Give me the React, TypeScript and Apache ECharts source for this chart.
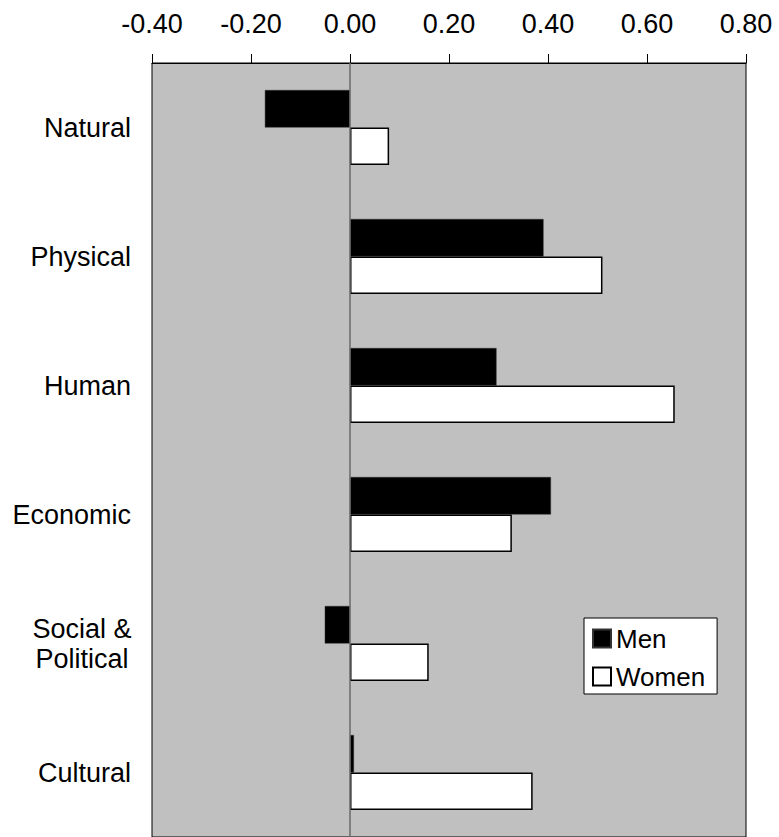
import React, { useEffect, useRef } from "react";
import * as echarts from "echarts";

const categories = ["Natural", "Physical", "Human", "Economic", "Social &\nPolitical", "Cultural"];
const menValues = [-0.172, 0.391, 0.296, 0.406, -0.051, 0.008];
const womenValues = [0.079, 0.51, 0.656, 0.327, 0.159, 0.369];
const seriesNames = ["Men", "Women"];

const FONT = "'Liberation Sans', Arial, sans-serif";

export default function App() {
  const ref = useRef<HTMLDivElement>(null);
  useEffect(() => {
    if (!ref.current) return;
    const chart = echarts.init(ref.current, undefined, { renderer: "svg" });
    chart.setOption({
      animation: false,
      backgroundColor: "#ffffff",
      textStyle: { fontFamily: FONT },
      grid: {
        left: 152,
        top: 63,
        width: 594,
        height: 777,
        show: true,
        backgroundColor: "#c0c0c0",
        borderColor: "#000000",
        borderWidth: 1,
      },
      legend: {
        orient: "vertical",
        left: 584,
        top: 618,
        padding: [7.5, 12, 4.5, 8],
        itemGap: 12,
        itemWidth: 18,
        itemHeight: 18,
        backgroundColor: "#ffffff",
        borderColor: "#000000",
        borderWidth: 1,
        icon: "rect",
        textStyle: { fontFamily: FONT, fontSize: 26, color: "#000", lineHeight: 26 },
        data: seriesNames,
      },
      xAxis: {
        type: "value",
        position: "top",
        min: -0.4,
        max: 0.8,
        interval: 0.2,
        axisLine: { show: true, lineStyle: { color: "#000", width: 1 } },
        axisTick: { show: true, inside: false, length: 9, lineStyle: { color: "#000" } },
        splitLine: { show: false },
        axisLabel: {
          fontFamily: FONT,
          fontSize: 27,
          color: "#000",
          margin: 26,
          formatter: (v: number) => v.toFixed(2),
        },
      },
      yAxis: {
        type: "category",
        inverse: true,
        data: categories,
        axisLine: { show: false },
        axisTick: { show: false },
        splitLine: { show: false },
        axisLabel: {
          fontFamily: FONT,
          fontSize: 27,
          color: "#000",
          margin: 21,
          lineHeight: 30,
          formatter: (v: string) =>
            v.includes("\n") ? v.split("\n").map((s) => `{c|${s}}`).join("\n") : v,
          rich: {
            c: { fontFamily: FONT, fontSize: 27, color: "#000", width: 98, align: "center", lineHeight: 30 },
          },
        },
      },
      series: [
        {
          name: "zero",
          type: "line",
          data: [],
          z: 1,
          silent: true,
          markLine: {
            silent: true,
            symbol: "none",
            label: { show: false },
            lineStyle: { color: "#6a6a6a", type: "solid", width: 1.5 },
            data: [{ xAxis: 0 }],
          },
        },
        {
          name: seriesNames[0],
          type: "bar",
          data: menValues,
          barWidth: 37.5,
          barGap: "0%",
          z: 3,
          itemStyle: { color: "#000000", borderColor: "#333", borderWidth: 0.5 },
        },
        {
          name: seriesNames[1],
          type: "bar",
          data: womenValues,
          barWidth: 37.5,
          barGap: "0%",
          z: 3,
          itemStyle: { color: "#ffffff", borderColor: "#000000", borderWidth: 1.5 },
        },
      ],
    });
    return () => chart.dispose();
  }, []);
  return (
    <div
      ref={ref}
      style={{ position: "absolute", left: 0, top: 0, width: 779, height: 837 }}
    />
  );
}
